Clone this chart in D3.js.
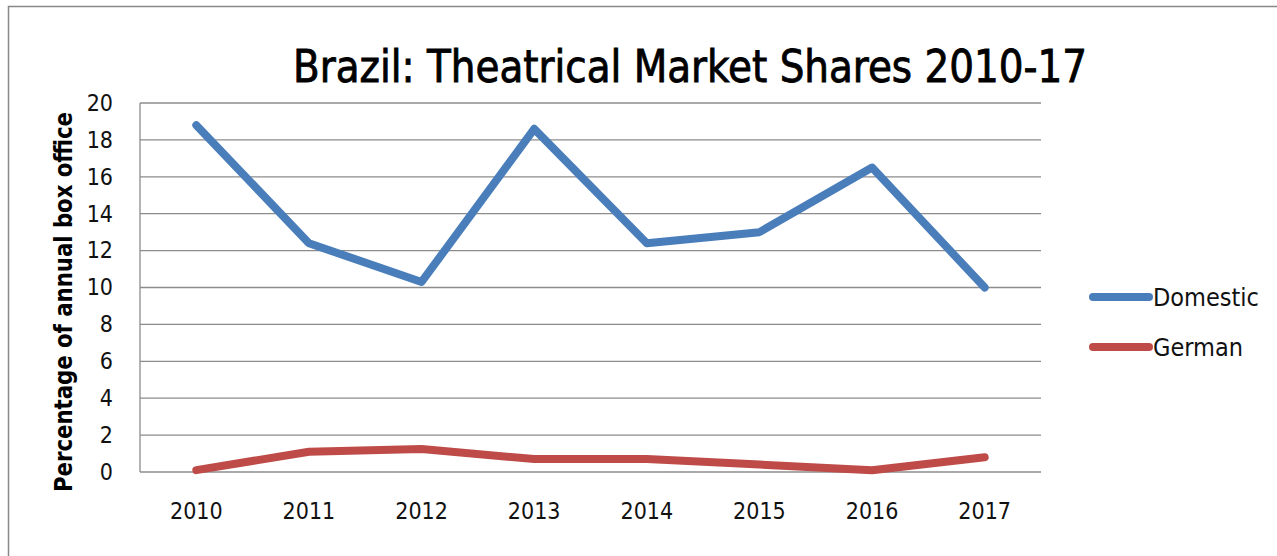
<!DOCTYPE html>
<html>
<head>
<meta charset="utf-8">
<script src="https://cdn.jsdelivr.net/npm/d3@7"></script>
<style>
  body { margin: 0; background: #fff; }
  svg { display: block; font-family: "DejaVu Sans Condensed", "DejaVu Sans", sans-serif; }
</style>
</head>
<body>
<div id="chart-area"></div>
<script>
var years = ["2010", "2011", "2012", "2013", "2014", "2015", "2016", "2017"];
var domestic = [18.8, 12.4, 10.3, 18.6, 12.4, 13.0, 16.5, 10.0];
var german = [0.1, 1.1, 1.25, 0.7, 0.7, 0.4, 0.1, 0.8];
var yTicks = [0, 2, 4, 6, 8, 10, 12, 14, 16, 18, 20];
var seriesNames = ["Domestic", "German"];
var seriesColors = ["#4a7ebb", "#be4b48"];

var width = 1277;
var height = 556;
var margin = { top: 103, right: 236, bottom: 84, left: 140 };
var innerWidth = width - margin.left - margin.right;
var innerHeight = height - margin.top - margin.bottom;

var svg = d3.select("#chart-area")
    .append("svg")
    .attr("width", width)
    .attr("height", height);

// frame: only top and left edges show in the picture
svg.append("path")
    .attr("d", "M8.5,556 V6.5 H1277")
    .attr("fill", "none")
    .attr("stroke", "#888")
    .attr("stroke-width", 1.5);

var g = svg.append("g")
    .attr("transform", `translate(${margin.left}, ${margin.top})`);

var x = d3.scaleBand()
    .domain(years)
    .range([0, innerWidth]);

var y = d3.scaleLinear()
    .domain([0, 20])
    .range([innerHeight, 0]);

// gridlines
g.selectAll(".grid")
    .data(yTicks)
    .enter()
    .append("line")
    .attr("x1", 0)
    .attr("x2", innerWidth)
    .attr("y1", d => y(d))
    .attr("y2", d => y(d))
    .attr("stroke", "#8c8c8c")
    .attr("stroke-width", 1.3);

g.append("line")
    .attr("x1", 0).attr("x2", 0)
    .attr("y1", 0).attr("y2", innerHeight)
    .attr("stroke", "#8c8c8c")
    .attr("stroke-width", 1.3);

// y axis labels
var yAxis = d3.axisLeft(y).tickValues(yTicks).tickSize(0).tickPadding(27);
var yg = g.append("g").call(yAxis);
yg.select(".domain").remove();
yg.selectAll("text")
    .attr("font-size", "23px")
    .attr("font-family", "DejaVu Sans Condensed, sans-serif")
    .attr("fill", "#111");

// x axis labels
var xAxis = d3.axisBottom(x).tickSize(0);
var xg = g.append("g")
    .attr("transform", `translate(0, ${innerHeight})`)
    .call(xAxis);
xg.select(".domain").remove();
xg.selectAll("text")
    .attr("y", 47)
    .attr("dy", 0)
    .attr("font-size", "23px")
    .attr("font-family", "DejaVu Sans Condensed, sans-serif")
    .attr("fill", "#111");

// lines
var line = d3.line()
    .x((d, i) => x(years[i]) + x.bandwidth() / 2)
    .y(d => y(d));

[domestic, german].forEach((vals, i) => {
    g.append("path")
        .datum(vals)
        .attr("d", line)
        .attr("fill", "none")
        .attr("stroke", seriesColors[i])
        .attr("stroke-width", 8)
        .attr("stroke-linecap", "round")
        .attr("stroke-linejoin", "round");
});

// legend
var legend = svg.selectAll(".legend")
    .data(seriesNames)
    .enter()
    .append("g")
    .attr("transform", (d, i) => `translate(1093, ${297 + i * 50})`);

legend.append("line")
    .attr("x1", 0)
    .attr("x2", 56)
    .attr("stroke", (d, i) => seriesColors[i])
    .attr("stroke-width", 8)
    .attr("stroke-linecap", "round");

legend.append("text")
    .attr("x", 60)
    .attr("y", 9)
    .attr("font-size", "25px")
    .attr("fill", "#111")
    .text(d => d);

// title
svg.append("text")
    .attr("x", 690)
    .attr("y", 82)
    .attr("text-anchor", "middle")
    .attr("font-size", "44px")
    .attr("stroke", "#000")
    .attr("stroke-width", 0.8)
    .attr("textLength", 794)
    .attr("lengthAdjust", "spacingAndGlyphs")
    .attr("fill", "#000")
    .text("Brazil: Theatrical Market Shares 2010-17");

// y axis title
svg.append("text")
    .attr("transform", "translate(72, 302) rotate(-90)")
    .attr("text-anchor", "middle")
    .attr("font-size", "24px")
    .attr("font-weight", "bold")
    .attr("textLength", 380)
    .attr("lengthAdjust", "spacingAndGlyphs")
    .attr("fill", "#000")
    .text("Percentage of annual box office");
</script>
</body>
</html>
